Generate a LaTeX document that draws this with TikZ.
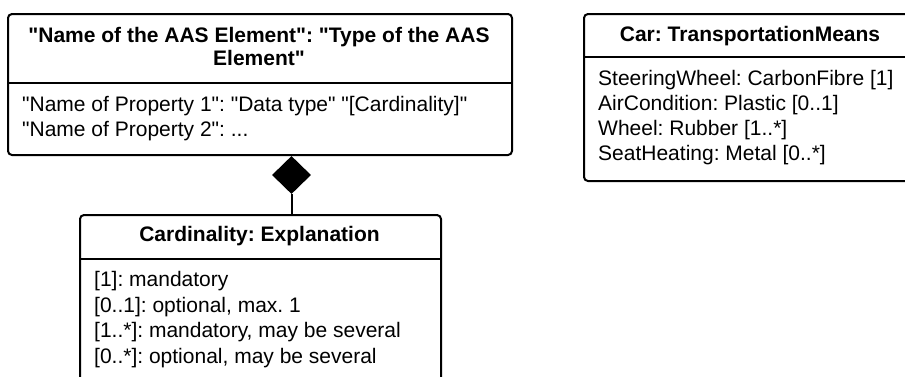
\documentclass[tikz,border=0pt]{standalone}
\usepackage{fontspec}
\setmainfont{Liberation Sans}[Ligatures=TeXOff]
\frenchspacing
\usetikzlibrary{shapes.geometric}

\tikzset{
  frame/.style={draw=black, line width=2pt, rounded corners=4pt, fill=white,
    inner sep=0pt, anchor=north west},
  divider/.style={draw=black, line width=2pt},
  headtext/.style={inner sep=0pt, anchor=base, font=\fontsize{21}{23.5}\selectfont\bfseries},
  bodyline/.style={inner sep=0pt, anchor=base west, font=\fontsize{21}{25}\selectfont},
  composition/.style={diamond, fill=black, draw=none, inner sep=0pt,
    minimum width=39pt, minimum height=38pt},
  link/.style={draw=black, line width=2pt}
}

\begin{document}
\begin{tikzpicture}[x=1pt, y=-1pt]
  \useasboundingbox (0,0) rectangle (905,376);
  \clip (0,0) rectangle (905,376);

  % generic AAS element template
  \node[frame, minimum width=504pt, minimum height=141pt] (aas) at (7,13) {};
  \coordinate (aasdiv) at (0,83);
  \draw[divider] (aas.west |- aasdiv) -- (aas.east |- aasdiv);
  \node[headtext] (aast1) at (259,42) {"Name of the AAS Element": "Type of the AAS};
  \node[headtext] (aast2) at (259,65) {Element"};
  \node[bodyline] (aasl1) at (22,111.5) {"Name of Property 1": "Data type" "[Cardinality]"};
  \node[bodyline] (aasl2) at (22,136.5) {"Name of Property 2": ...};

  % example instance
  \node[frame, minimum width=334pt, minimum height=167pt] (car) at (583,13) {};
  \coordinate (cardiv) at (0,57);
  \draw[divider] (car.west |- cardiv) -- (car.east |- cardiv);
  \node[headtext] (cart) at (750,41) {Car: TransportationMeans};
  \node[bodyline] (carl1) at (598,85) {SteeringWheel: CarbonFibre [1]};
  \node[bodyline] (carl2) at (598,110) {AirCondition: Plastic [0..1]};
  \node[bodyline] (carl3) at (598,135) {Wheel: Rubber [1..*]};
  \node[bodyline] (carl4) at (598,160) {SeatHeating: Metal [0..*]};

  % cardinality legend
  \node[frame, minimum width=361pt, minimum height=180pt] (card) at (79,214) {};
  \coordinate (carddiv) at (0,259);
  \draw[divider] (card.west |- carddiv) -- (card.east |- carddiv);
  \node[headtext] (cardt) at (259.5,241.5) {Cardinality: Explanation};
  \node[bodyline] (cardl1) at (94,286.5) {[1]: mandatory};
  \node[bodyline] (cardl2) at (94,312) {[0..1]: optional, max. 1};
  \node[bodyline] (cardl3) at (94,337.5) {[1..*]: mandatory, may be several};
  \node[bodyline] (cardl4) at (94,363) {[0..*]: optional, may be several};

  % composition between template and legend
  \node[composition] (comp) at (291.5,175) {};
  \draw[link] (comp.south) -- (comp.south |- card.north);
\end{tikzpicture}
\end{document}
